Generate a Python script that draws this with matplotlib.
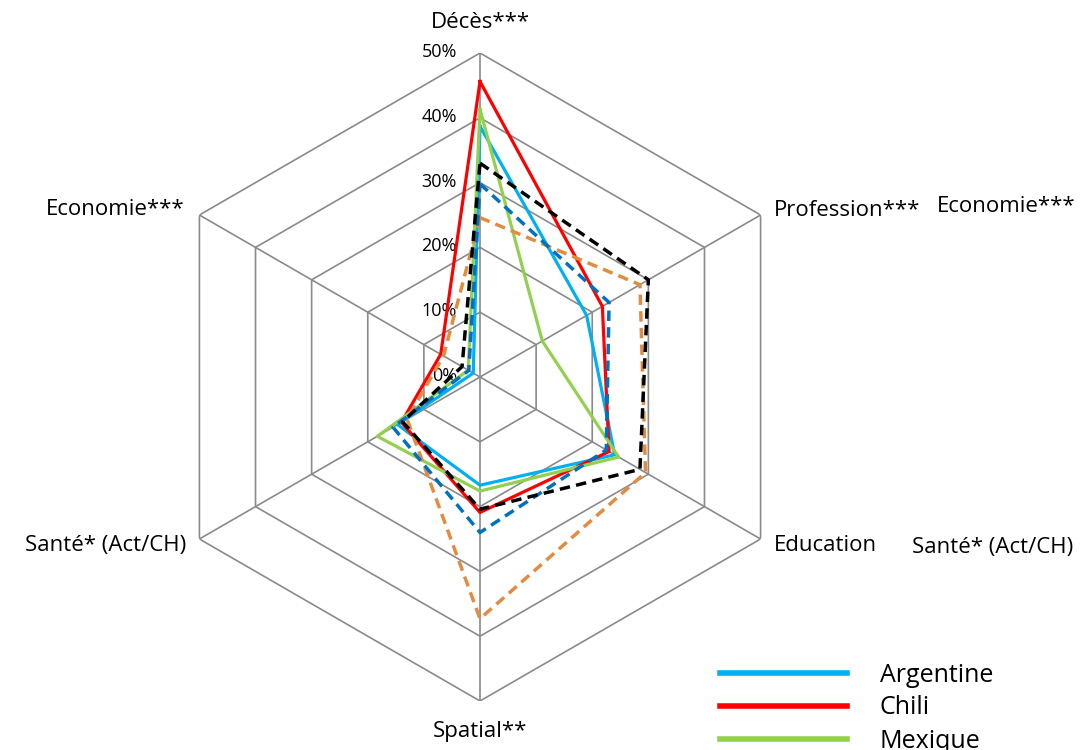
import numpy as np
import matplotlib
matplotlib.use("Agg")
import matplotlib.pyplot as plt

plt.rcParams['font.family'] = ['Open Sans', 'DejaVu Sans']

# axes of the radar, clockwise from the top
categories = ['Décès***', 'Profession***', 'Education', 'Spatial**',
              'Santé* (Act/CH)', 'Economie***']
ring_levels = [0, 10, 20, 30, 40, 50]
ring_labels = ['0%', '10%', '20%', '30%', '40%', '50%']

# values in %, same order as categories
argentine = [38.7, 19.0, 24.0, 16.7, 14.7, 1.2]
chili = [45.6, 21.8, 23.0, 20.9, 14.0, 7.0]
mexique = [41.3, 11.1, 24.7, 17.6, 18.3, 2.1]
# the dashed series (their legend entries are cut off in the original)
dash_blue = [29.8, 23.0, 22.5, 24.0, 15.5, 2.0]
dash_orange = [24.6, 28.5, 29.5, 37.3, 13.0, 6.5]
dash_black = [33.0, 30.0, 28.5, 20.4, 13.8, 3.2]

n = len(categories)
theta = np.linspace(0, 2 * np.pi, n, endpoint=False)
theta_closed = np.append(theta, theta[0])


def closed(vals):
    return np.append(vals, vals[0])


W, H = 1084, 750
fig = plt.figure(figsize=(W / 100, H / 100), dpi=100)
cx, cy, R = 480, 377, 324
ax = fig.add_axes([(cx - R) / W, (H - cy - R) / H, 2 * R / W, 2 * R / H],
                  projection='polar')
ax.set_theta_zero_location('N')
ax.set_theta_direction(-1)
ax.set_ylim(0, 50)
ax.grid(False)
ax.spines['polar'].set_visible(False)
ax.set_xticks([])
ax.set_yticks([])
ax.patch.set_alpha(0)

grid_col = '#8a8a8a'
for r in ring_levels[1:]:
    ax.plot(theta_closed, [r] * (n + 1), color=grid_col, lw=1.2, zorder=1)
for t in theta:
    ax.plot([t, t], [0, 50], color=grid_col, lw=1.2, zorder=1)

for r, lab in zip(ring_levels, ring_labels):
    ax.annotate(lab, (0, r), xytext=(-23, 1), textcoords='offset pixels',
                ha='right', va='center', fontsize=13)

# category labels around the outer ring
offsets = [(0, 30, 'center', 'center'), (13, 5, 'left', 'center'),
           (13, -7, 'left', 'center'), (0, -31, 'center', 'center'),
           (-13, -7, 'right', 'center'), (-15, 6, 'right', 'center')]
for t, lab, (dx, dy, ha, va) in zip(theta, categories, offsets):
    ax.annotate(lab, (t, 50), xytext=(dx, dy), textcoords='offset pixels',
                ha=ha, va=va, fontsize=16)

solid = [(argentine, '#00b0f0', 'Argentine'), (chili, '#ff0000', 'Chili'),
         (mexique, '#92d050', 'Mexique')]
for vals, col, lab in solid:
    ax.plot(theta_closed, closed(vals), color=col, lw=2.3, label=lab, zorder=3)

dashed = [(dash_orange, '#e28c42'), (dash_blue, '#0070c0'), (dash_black, '#000000')]
for vals, col in dashed:
    ax.plot(theta_closed, closed(vals), color=col, lw=2.5,
            linestyle=(0, (3, 1.8)), label='_nolegend_', zorder=4)

# labels of the neighbouring chart that spill into the picture
fig.text(937 / W, 1 - 207 / H, 'Economie***', fontsize=16, ha='left', va='center')
fig.text(912 / W, 1 - 547 / H, 'Santé* (Act/CH)', fontsize=16, ha='left', va='center')

leg = ax.legend(loc='upper left', bbox_to_anchor=(697 / W, 1 - 640 / H),
                bbox_transform=fig.transFigure, frameon=False, fontsize=18,
                handlelength=5.1, handletextpad=1.3, labelspacing=0.32)
for line in leg.get_lines():
    line.set_linewidth(4)

fig.savefig('out.png', dpi=100)
